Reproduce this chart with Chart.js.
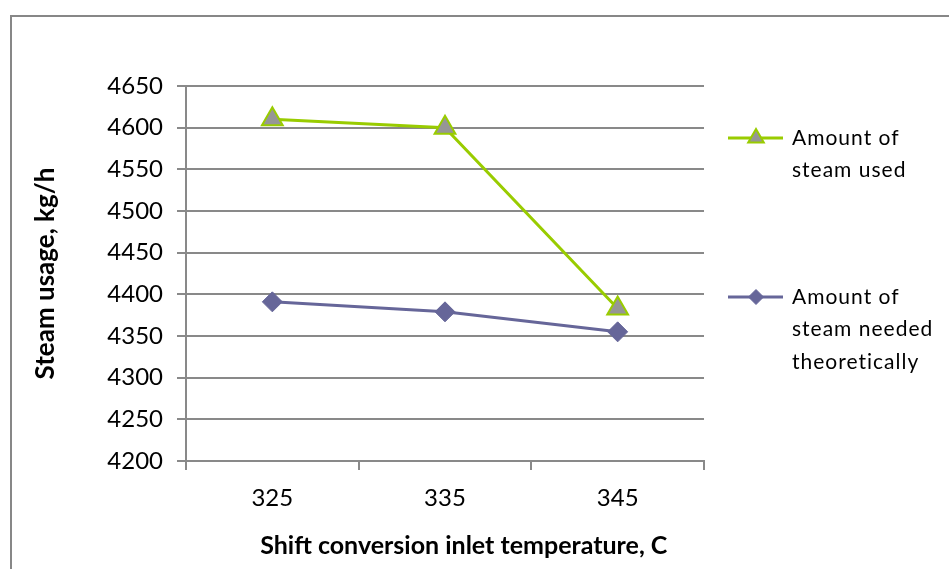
<!DOCTYPE html>
<html lang="en">
<head>
    <meta charset="UTF-8">
    <title>Steam usage</title>
    <script src="https://cdn.jsdelivr.net/npm/chart.js"></script>
    <style>
        * { margin: 0; padding: 0; box-sizing: border-box; }
        body { width: 949px; height: 569px; overflow: hidden; background: #fff; position: relative; }
        /* outer chart frame, runs off the right and bottom edges */
        .frame {
            position: absolute; left: 10px; top: 15px;
            width: 1000px; height: 1000px;
            border: 2px solid #878787;
        }
        canvas { position: absolute; left: 0; top: 0; }
    </style>
</head>
<body>
    <div class="frame"></div>
    <canvas id="steamChart" width="949" height="569"></canvas>

    <script>
        // data
        const temperatures = ['325', '335', '345'];
        const steamUsed = [4610, 4600, 4383];
        const steamNeeded = [4391, 4379, 4355];
        const legendUsed = ['Amount of', 'steam used'];
        const legendNeeded = ['Amount of', 'steam needed', 'theoretically'];

        const GREEN = '#99cc00';
        const PURPLE = '#666699';
        const GRID = '#898989';
        const FONT = 'Lato, "Open Sans", sans-serif';

        // legend on the right, drawn by hand so labels can wrap like Excel
        const sideLegend = {
            id: 'sideLegend',
            afterDraw(chart) {
                const ctx = chart.ctx;
                const items = [
                    { ds: chart.data.datasets[0], lines: legendUsed, y: 138, r: 9 },
                    { ds: chart.data.datasets[1], lines: legendNeeded, y: 297, r: 7.5 }
                ];
                ctx.save();
                items.forEach(it => {
                    ctx.strokeStyle = it.ds.borderColor;
                    ctx.lineWidth = 3;
                    ctx.beginPath();
                    ctx.moveTo(728, it.y);
                    ctx.lineTo(783, it.y);
                    ctx.stroke();

                    ctx.fillStyle = it.ds.pointBackgroundColor;
                    ctx.strokeStyle = it.ds.pointBorderColor;
                    ctx.lineWidth = it.ds.pointBorderWidth;
                    Chart.helpers.drawPoint(ctx, {
                        pointStyle: it.ds.pointStyle,
                        radius: it.r,
                        rotation: 0,
                        borderWidth: it.ds.pointBorderWidth
                    }, 756, it.y);

                    ctx.fillStyle = '#000';
                    ctx.font = '21px ' + FONT;
                    ctx.letterSpacing = '1px';
                    ctx.textBaseline = 'middle';
                    ctx.textAlign = 'left';
                    it.lines.forEach((txt, i) => {
                        ctx.fillText(txt, 792, it.y + i * 32.5);
                    });
                });
                ctx.restore();
            }
        };

        new Chart(document.getElementById('steamChart'), {
            type: 'line',
            data: {
                labels: temperatures,
                datasets: [
                    {
                        label: 'Amount of steam used',
                        data: steamUsed,
                        borderColor: GREEN,
                        borderWidth: 3,
                        pointStyle: 'triangle',
                        pointRadius: 12,
                        pointBackgroundColor: '#969696',
                        pointBorderColor: GREEN,
                        pointBorderWidth: 2,
                        tension: 0
                    },
                    {
                        label: 'Amount of steam needed theoretically',
                        data: steamNeeded,
                        borderColor: PURPLE,
                        borderWidth: 3,
                        pointStyle: 'rectRot',
                        pointRadius: 10,
                        pointBackgroundColor: PURPLE,
                        pointBorderColor: PURPLE,
                        pointBorderWidth: 1,
                        tension: 0
                    }
                ]
            },
            options: {
                responsive: false,
                animation: false,
                layout: { padding: { left: 0, top: 86, right: 245, bottom: 0 } },
                plugins: {
                    legend: { display: false },
                    tooltip: { enabled: false }
                },
                scales: {
                    x: {
                        offset: true,
                        afterFit: s => { s.height = 108; },
                        grid: {
                            offset: true,
                            drawOnChartArea: false,
                            drawTicks: true,
                            tickLength: 9,
                            color: GRID,
                            lineWidth: 2
                        },
                        border: { color: GRID, width: 2 },
                        ticks: {
                            color: '#000',
                            padding: 14,
                            maxRotation: 0,
                            font: { family: FONT, size: 24 }
                        },
                        title: {
                            display: true,
                            // en spaces nudge the title right, as in the original
                            text: '\u2002\u2002\u2002Shift conversion inlet temperature, C',
                            color: '#000',
                            padding: { top: 0, bottom: 8 },
                            font: { family: FONT, size: 25, weight: 'bold' }
                        }
                    },
                    y: {
                        min: 4200,
                        max: 4650,
                        afterFit: s => { s.width = 186; },
                        grid: {
                            color: GRID,
                            lineWidth: 2,
                            tickLength: 9
                        },
                        border: { color: GRID, width: 2 },
                        ticks: {
                            stepSize: 50,
                            color: '#000',
                            padding: 14,
                            font: { family: FONT, size: 24 },
                            callback: v => String(v)
                        },
                        title: {
                            display: true,
                            text: 'Steam usage, kg/h',
                            color: '#000',
                            padding: { top: 30, bottom: 0 },
                            font: { family: FONT, size: 26, weight: 'bold' }
                        }
                    }
                }
            },
            plugins: [sideLegend]
        });
    </script>
</body>
</html>
